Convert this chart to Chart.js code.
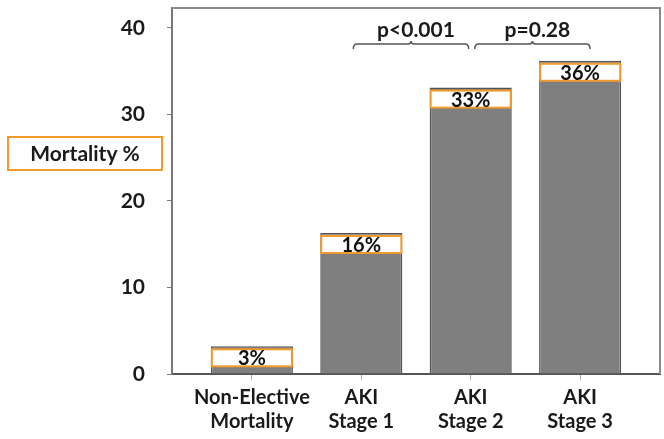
<!DOCTYPE html>
<html>
<head>
<meta charset="utf-8">
<script src="https://cdn.jsdelivr.net/npm/chart.js@4/dist/chart.umd.min.js"></script>
<style>
  html, body { margin: 0; padding: 0; background: #ffffff; }
  #wrap { width: 664px; height: 439px; }
</style>
</head>
<body>
<div id="wrap"><canvas id="c" width="664" height="439"></canvas></div>
<script>
// ---- data ----
const categories = [['Non-Elective', 'Mortality'], ['AKI', 'Stage 1'], ['AKI', 'Stage 2'], ['AKI', 'Stage 3']];
const mortality = [3.2, 16.3, 33.1, 36.2];
const valueLabels = ['3%', '16%', '33%', '36%'];
const yTickValues = [0, 10, 20, 30, 40];
const comparisons = [
  { from: 1, to: 2, text: 'p<0.001' },
  { from: 2, to: 3, text: 'p=0.28' }
];
const yTitle = 'Mortality %';

// ---- styles ----
const FONT = 'Lato, "Open Sans", sans-serif';
const TEXT = '#1a1a1a';
const ORANGE = '#f29a2e';

const decorations = {
  id: 'decorations',
  afterDatasetsDraw(chart) {
    const ctx = chart.ctx;
    const area = chart.chartArea;
    const xs = chart.scales.x;
    ctx.save();
    // frame top + right
    ctx.strokeStyle = '#8a8a8a';
    ctx.lineWidth = 2;
    ctx.beginPath();
    ctx.moveTo(area.left, area.top);
    ctx.lineTo(area.right, area.top);
    ctx.lineTo(area.right, area.bottom);
    ctx.stroke();

    // value label boxes
    const meta = chart.getDatasetMeta(0);
    meta.data.forEach((bar, i) => {
      const p = bar.getProps(['x', 'y', 'width'], true);
      const l = p.x - p.width / 2 + 1, w = p.width - 2;
      const top = p.y + 3, h = 17;
      ctx.fillStyle = '#ffffff';
      ctx.fillRect(l, top, w, h);
      ctx.strokeStyle = ORANGE;
      ctx.lineWidth = 2;
      ctx.strokeRect(l, top, w, h);
      ctx.fillStyle = '#111';
      ctx.font = 'bold 20px ' + FONT;
      ctx.textAlign = 'center';
      ctx.textBaseline = 'middle';
      ctx.fillText(valueLabels[i], p.x, top + h / 2 + 1);
    });

    // comparison brackets
    comparisons.forEach((c, i) => {
      const x1 = xs.getPixelForValue(c.from) - 8 + 12 * i;
      const x2 = xs.getPixelForValue(c.to) - 2 + 12 * i;
      const yLine = 44;
      const mid = (x1 + x2) / 2;
      ctx.strokeStyle = '#555';
      ctx.lineWidth = 1.5;
      ctx.beginPath();
      ctx.moveTo(x1, yLine + 5);
      ctx.quadraticCurveTo(x1, yLine, x1 + 4, yLine);
      ctx.lineTo(mid - 3, yLine);
      ctx.quadraticCurveTo(mid, yLine, mid, yLine - 3);
      ctx.quadraticCurveTo(mid, yLine, mid + 3, yLine);
      ctx.lineTo(x2 - 4, yLine);
      ctx.quadraticCurveTo(x2, yLine, x2, yLine + 5);
      ctx.stroke();
      ctx.fillStyle = TEXT;
      ctx.font = 'bold 21px ' + FONT;
      ctx.textAlign = 'center';
      ctx.textBaseline = 'middle';
      ctx.fillText(c.text, mid + 5, 30);
    });

    // y title box
    ctx.strokeStyle = ORANGE;
    ctx.lineWidth = 2;
    ctx.strokeRect(8, 137, 154, 33);
    ctx.fillStyle = TEXT;
    ctx.font = 'bold 21px ' + FONT;
    ctx.textAlign = 'center';
    ctx.textBaseline = 'middle';
    ctx.fillText(yTitle, 85, 154);
    ctx.restore();
  }
};

new Chart(document.getElementById('c'), {
  type: 'bar',
  data: {
    datasets: [{
      data: mortality.map((v, i) => ({ x: i, y: v })),
      backgroundColor: '#7f7f7f',
      borderColor: '#555555',
      borderWidth: 1.5,
      borderSkipped: 'bottom',
      categoryPercentage: 1,
      barPercentage: 0.75
    }]
  },
  options: {
    responsive: false,
    devicePixelRatio: 1,
    animation: false,
    layout: { padding: { top: 8, right: 4, left: 0, bottom: 0 } },
    plugins: { legend: { display: false }, tooltip: { enabled: false } },
    scales: {
      x: {
        type: 'linear',
        offset: false,
        min: -0.73,
        max: 3.73,
        afterBuildTicks(axis) { axis.ticks = categories.map((_, i) => ({ value: i })); },
        afterFit(s) { s.height = 65; s.paddingLeft = 0; s.paddingRight = 0; },
        ticks: {
          autoSkip: false,
          maxRotation: 0,
          padding: 6,
          color: TEXT,
          font: { family: FONT, size: 20, weight: 'bold', lineHeight: 1.2 },
          callback: (v) => categories[v]
        },
        grid: { offset: false, drawOnChartArea: false, drawTicks: true, tickLength: 6, color: '#aaaaaa' },
        border: { color: '#555555', width: 2 }
      },
      y: {
        min: 0,
        max: 42.3,
        afterBuildTicks(axis) { axis.ticks = yTickValues.map(v => ({ value: v })); },
        afterFit(s) { s.width = 172; s.paddingTop = 0; s.paddingBottom = 0; },
        ticks: {
          padding: 22,
          color: TEXT,
          font: { family: FONT, size: 21, weight: 'bold' }
        },
        grid: { drawOnChartArea: false, drawTicks: true, tickLength: 5, color: '#777777' },
        border: { color: '#777777', width: 2 }
      }
    }
  },
  plugins: [decorations]
});
</script>
</body>
</html>
